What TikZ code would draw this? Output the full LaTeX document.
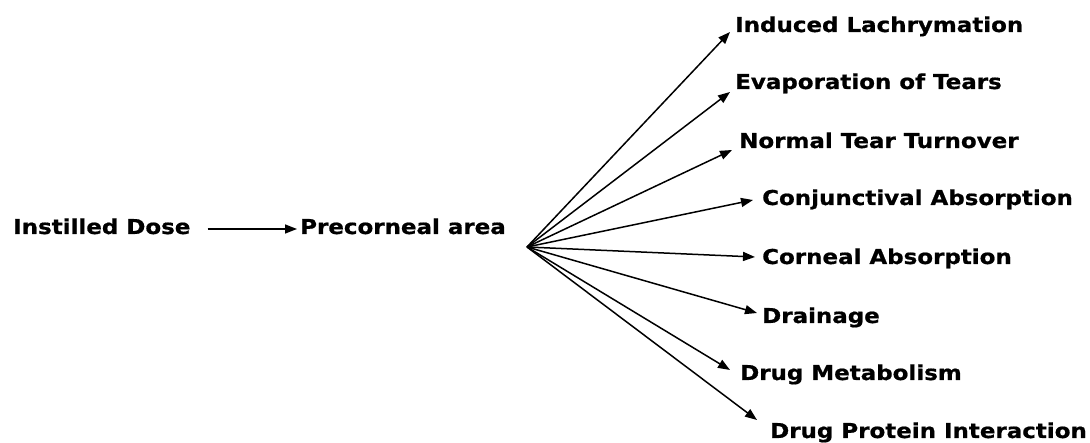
\documentclass[tikz,border=0pt]{standalone}
\usepackage{fontspec}
\setmainfont{DejaVu Sans}[FakeStretch=1.12,FakeBold=0.8]
\usetikzlibrary{arrows.meta,calc}
\begin{document}
\begin{tikzpicture}[x=1pt,y=-1pt,
  lbl/.style={anchor=base west,inner sep=0pt,font=\fontsize{20.5}{24}\selectfont\bfseries},
  arr/.style={line width=1.5pt,-{Triangle[length=12pt,width=9pt]}}]
\useasboundingbox (0,0) rectangle (1090,443);
\node (dose) [lbl] at (13,234) {Instilled Dose};
\node (prec) [lbl] at (300,234) {Precorneal area};
\coordinate (fan) at (527,247);
\node (ind) [lbl] at (735,32) {Induced Lachrymation};
\node (evap) [lbl] at (735,89) {Evaporation of Tears};
\node (norm) [lbl] at (739,148) {Normal Tear Turnover};
\node (conj) [lbl] at (762,205) {Conjunctival Absorption};
\node (corn) [lbl] at (762,264) {Corneal Absorption};
\node (drain) [lbl] at (762,323) {Drainage};
\node (metab) [lbl] at (740,380) {Drug Metabolism};
\node (prot) [lbl] at (770,438) {Drug Protein Interaction};
\draw [arr] ($(dose.base east)+(17,-5)$) -- ($(prec.base west)+(-3,-5)$);
\draw [arr] (fan) -- ($(ind.base west)+(-5,0)$);
\draw [arr] (fan) -- ($(evap.base west)+(-5,3)$);
\draw [arr] (fan) -- ($(norm.base west)+(-7,2)$);
\draw [arr] (fan) -- ($(conj.base west)+(-9,-5)$);
\draw [arr] (fan) -- ($(corn.base west)+(-7,-7)$);
\draw [arr] (fan) -- ($(drain.base west)+(-5,-10)$);
\draw [arr] (fan) -- ($(metab.base west)+(-10,-10)$);
\draw [arr] (fan) -- ($(prot.base west)+(-13,-18)$);
\end{tikzpicture}
\end{document}
